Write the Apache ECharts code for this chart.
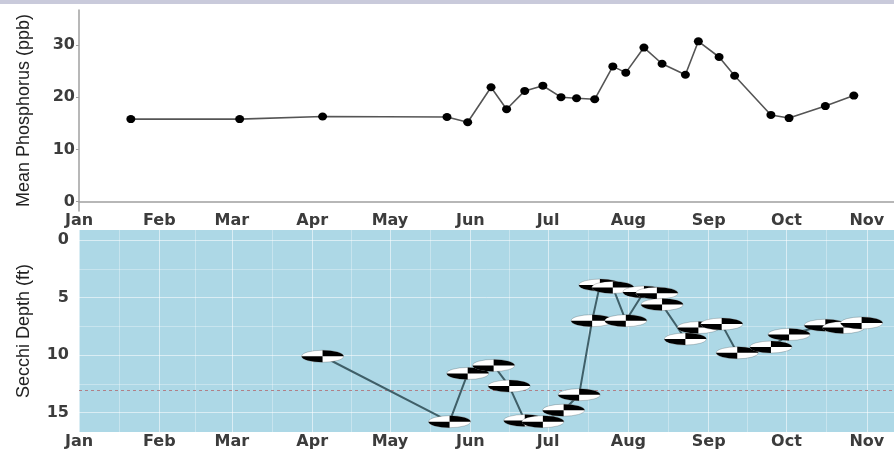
<!DOCTYPE html>
<html style="height: 100%">
<head>
    <meta charset="utf-8">
</head>
<body style="height: 100%; margin: 0">
<div id="container" style="width: 894px; height: 450px;"></div>

<script type="text/javascript" src="https://cdn.jsdelivr.net/npm/echarts@6/dist/echarts.min.js"></script>
<script type="text/javascript">
    // month tick labels
    var monthNames = ['Jan', 'Feb', 'Mar', 'Apr', 'May', 'Jun', 'Jul', 'Aug', 'Sep', 'Oct', 'Nov'];
    var monthDates = ['01-01', '02-01', '03-01', '04-01', '05-01', '06-01', '07-01', '08-01', '09-01', '10-01', '11-01'];

    // mean phosphorus (ppb)
    var phosDates = ['01-21', '03-04', '04-05', '05-23', '05-31', '06-09', '06-15', '06-22', '06-29', '07-06',
        '07-12', '07-19', '07-26', '07-31', '08-07', '08-14', '08-23', '08-28', '09-05', '09-11',
        '09-25', '10-02', '10-16', '10-27'];
    var phosValues = [15.8, 15.8, 16.3, 16.2, 15.2, 21.9, 17.7, 21.2, 22.2, 20.0,
        19.8, 19.6, 25.9, 24.7, 29.5, 26.4, 24.3, 30.7, 27.7, 24.1,
        16.6, 16.0, 18.3, 20.3];

    // secchi depth (ft)
    var secchiDates = ['04-05', '05-24', '05-31', '06-10', '06-16', '06-22', '06-29', '07-07', '07-13', '07-18',
        '07-21', '07-26', '07-31', '08-07', '08-12', '08-14', '08-23', '08-28', '09-06', '09-12',
        '09-25', '10-02', '10-16', '10-23', '10-30'];
    var secchiDepth = [10.1, 15.8, 11.6, 10.9, 12.7, 15.7, 15.8, 14.8, 13.45, 7.0,
        3.9, 4.1, 7.0, 4.5, 4.6, 5.6, 8.6, 7.6, 7.3, 9.8,
        9.3, 8.2, 7.4, 7.6, 7.2];
    var secchiRef = 13.1;

    function dayOfYear(s) {
        var p = s.split('-');
        return (Date.UTC(2015, +p[0] - 1, +p[1]) - Date.UTC(2015, 0, 1)) / 864e5;
    }

    var monthStarts = monthDates.map(dayOfYear);
    var phosData = phosDates.map(function (d, i) { return [dayOfYear(d), phosValues[i]]; });
    var secchiData = secchiDates.map(function (d, i) { return [dayOfYear(d), secchiDepth[i]]; });

    var labelColor = '#3c3c3c';
    var labelFont = 'DejaVu Sans';

    // panel grid lines for the lower panel
    var gridLines = [];
    var major = { color: 'rgba(255,255,255,0.55)', width: 1, type: 'solid' };
    var minor = { color: 'rgba(255,255,255,0.4)', width: 0.8, type: 'solid' };
    [0, 2.5, 5, 7.5, 10, 12.5, 15].forEach(function (v) {
        gridLines.push({ yAxis: v, lineStyle: v % 5 === 0 ? major : minor });
    });
    monthStarts.forEach(function (m, i) {
        gridLines.push({ xAxis: m, lineStyle: major });
        if (i < monthStarts.length - 1) {
            gridLines.push({ xAxis: (m + monthStarts[i + 1]) / 2, lineStyle: minor });
        }
    });
    gridLines.push({ yAxis: secchiRef, lineStyle: { color: '#b08088', width: 1, type: [3, 3] } });

    var dom = document.getElementById('container');
    var myChart = echarts.init(dom);

    function monthAxis(idx) {
        return {
            type: 'value',
            gridIndex: idx,
            min: 0,
            max: 314.5,
            axisLine: idx === 0 ? { show: true, lineStyle: { color: '#a0a0a0', width: 1.5 } } : { show: false },
            axisTick: { show: false },
            splitLine: { show: false },
            axisLabel: {
                customValues: monthStarts,
                formatter: function (v) { return monthNames[monthStarts.indexOf(v)]; },
                color: labelColor,
                fontFamily: labelFont,
                fontWeight: 'bold',
                fontSize: 16,
                margin: 2
            }
        };
    }

    var option = {
        animation: false,
        backgroundColor: '#fff',
        graphic: [{
            type: 'rect',
            shape: { x: 0, y: 0, width: 894, height: 4 },
            style: { fill: '#c9cadb' },
            silent: true
        }],
        grid: [
            { left: 79, right: 0, top: 10, bottom: 239 },
            { left: 79, right: 0, top: 230, bottom: 18, show: true, backgroundColor: '#add8e6', borderWidth: 0 }
        ],
        xAxis: [monthAxis(0), monthAxis(1)],
        yAxis: [
            {
                type: 'value',
                gridIndex: 0,
                min: -1.8,
                max: 36.7,
                name: 'Mean Phosphorus (ppb)',
                nameLocation: 'middle',
                nameGap: 46,
                nameTextStyle: { fontFamily: 'Liberation Sans', fontSize: 18, color: '#222' },
                axisLine: { show: true, lineStyle: { color: '#a0a0a0', width: 1.5 } },
                axisTick: { show: true, length: 3, customValues: [0, 10, 20, 30], lineStyle: { color: '#a0a0a0' } },
                splitLine: { show: false },
                axisLabel: {
                    customValues: [0, 10, 20, 30],
                    color: labelColor,
                    fontFamily: labelFont,
                    fontWeight: 'bold',
                    fontSize: 16,
                    margin: 4
                }
            },
            {
                type: 'value',
                gridIndex: 1,
                inverse: true,
                min: -0.9,
                max: 16.7,
                name: 'Secchi Depth (ft)',
                nameLocation: 'middle',
                nameGap: 46,
                nameTextStyle: { fontFamily: 'Liberation Sans', fontSize: 18, color: '#222' },
                axisLine: { show: false },
                axisTick: { show: false },
                splitLine: { show: false },
                axisLabel: {
                    customValues: [0, 5, 10, 15],
                    color: labelColor,
                    fontFamily: labelFont,
                    fontWeight: 'bold',
                    fontSize: 16,
                    margin: 10
                }
            }
        ],
        series: [
            {
                type: 'line',
                xAxisIndex: 0,
                yAxisIndex: 0,
                data: phosData,
                symbol: 'circle',
                symbolSize: [9, 8],
                itemStyle: { color: '#000' },
                lineStyle: { color: '#555', width: 1.6 },
                z: 3
            },
            {
                type: 'line',
                xAxisIndex: 1,
                yAxisIndex: 1,
                data: secchiData,
                symbol: 'none',
                lineStyle: { color: '#3f5f68', width: 2 },
                z: 2,
                markLine: {
                    silent: true,
                    z: 1,
                    symbol: 'none',
                    label: { show: false },
                    data: gridLines
                }
            },
            {
                type: 'custom',
                xAxisIndex: 1,
                yAxisIndex: 1,
                data: secchiData,
                z: 3,
                renderItem: function (params, api) {
                    var p = api.coord([api.value(0), api.value(1)]);
                    var r = 21;
                    return {
                        type: 'group',
                        x: p[0],
                        y: p[1],
                        scaleY: 12 / 42,
                        children: [
                            { type: 'circle', shape: { cx: 0, cy: 0, r: r }, style: { fill: '#fff', stroke: 'rgba(0,0,0,0.3)', lineWidth: 1 } },
                            { type: 'sector', shape: { cx: 0, cy: 0, r: r, startAngle: -Math.PI / 2, endAngle: 0 }, style: { fill: '#000' } },
                            { type: 'sector', shape: { cx: 0, cy: 0, r: r, startAngle: Math.PI / 2, endAngle: Math.PI }, style: { fill: '#000' } }
                        ]
                    };
                }
            }
        ]
    };

    myChart.setOption(option);
</script>
</body>
</html>
